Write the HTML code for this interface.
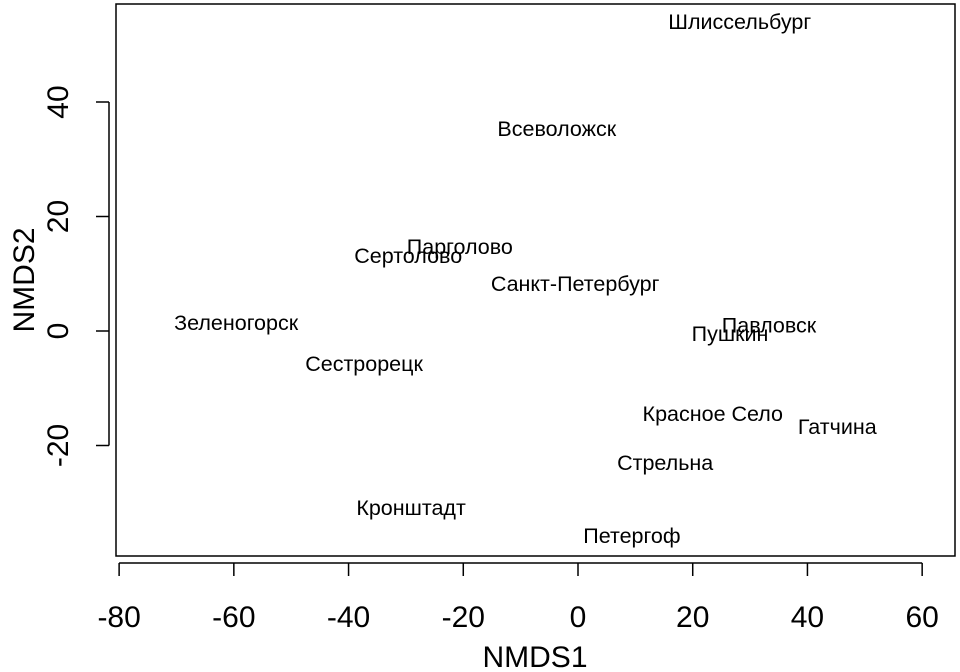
<!DOCTYPE html>
<html><head><meta charset="utf-8"><style>
html,body{margin:0;padding:0;background:#fff;}
svg{display:block;font-family:"Liberation Sans",sans-serif;}
</style></head><body>
<svg id="chart" width="960" height="672">
<rect x="116" y="4" width="839" height="552" fill="none" stroke="#000" stroke-width="1.5"/>
<g id="xaxis"></g>
<g id="yaxis"></g>
<g id="labels"></g>
<text x="535" y="667" font-size="30" text-anchor="middle">NMDS1</text>
<text transform="translate(34,280) rotate(-90)" font-size="30" text-anchor="middle">NMDS2</text>
</svg>
<script>
const sites = ["Шлиссельбург","Всеволожск","Парголово","Сертолово","Санкт-Петербург","Зеленогорск","Павловск","Пушкин","Сестрорецк","Красное Село","Гатчина","Стрельна","Кронштадт","Петергоф"];
const nmds1 = [28.2,-3.7,-20.6,-29.6,-0.5,-59.6,33.3,26.5,-37.3,23.5,45.2,15.2,-29.1,9.4];
const nmds2 = [54.0,35.3,14.7,13.1,8.2,1.4,1.0,-0.5,-5.8,-14.5,-16.8,-23.1,-30.9,-35.8];
const xTicks = [-80,-60,-40,-20,0,20,40,60];
const yTicks = [-20,0,20,40];
const NS="http://www.w3.org/2000/svg";
function sx(v){return 578+v*5.736;}
function sy(v){return 331-v*5.725;}
function mk(t,a,p){const e=document.createElementNS(NS,t);for(const k in a)e.setAttribute(k,a[k]);p.appendChild(e);return e;}
const xa=document.getElementById('xaxis');
mk('line',{x1:sx(-80),x2:sx(60),y1:563,y2:563,stroke:'#000','stroke-width':1.5},xa);
xTicks.forEach(v=>{
  const l=mk('line',{x1:sx(v),x2:sx(v),y1:563,y2:576,stroke:'#000','stroke-width':1.5},xa);
  
  
  const t=mk('text',{x:sx(v),y:627,'font-size':30,'text-anchor':'middle'},xa);
  t.textContent=v;
  
  
});
const ya=document.getElementById('yaxis');
mk('line',{x1:109,x2:109,y1:sy(-20),y2:sy(40),stroke:'#000','stroke-width':1.5},ya);
yTicks.forEach(v=>{
  const l=mk('line',{x1:96,x2:109,y1:sy(v),y2:sy(v),stroke:'#000','stroke-width':1.5},ya);
  
  
  const t=mk('text',{transform:`translate(68,${sy(v)}) rotate(-90)`,'font-size':30,'text-anchor':'middle'},ya);
  t.textContent=v;
  
  
});
const lg=document.getElementById('labels');
sites.forEach((s,i)=>{
  const t=mk('text',{x:sx(nmds1[i]),y:sy(nmds2[i])+7,'font-size':21.5,'text-anchor':'middle'},lg);
  t.textContent=s;
  
  
});
</script>
</body></html>
